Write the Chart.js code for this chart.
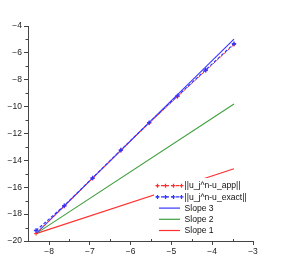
<!DOCTYPE html>
<html><head><meta charset="utf-8">
<script src="https://cdn.jsdelivr.net/npm/chart.js@4"></script>
<style>html,body{margin:0;padding:0;background:#fff}#wrap{width:282px;height:268px}</style>
</head><body><div id="wrap"><canvas id="c" width="282" height="268"></canvas></div>
<script>
const xValues = [-8.318, -7.625, -6.931, -6.238, -5.545, -4.852, -4.159, -3.466];
const appErr = [-19.45, -17.42, -15.34, -13.27, -11.23, -9.26, -7.32, -5.38];
const exactErr = [-19.22, -17.37, -15.31, -13.23, -11.19, -9.21, -7.27, -5.32];
const slopeX = [-8.318, -3.466];
const slope3 = [-19.45, -4.97];
const slope2 = [-19.45, -9.80];
const slope1 = [-19.45, -14.62];
const seriesLabels = ['||u_j^n-u_app||', '||u_j^n-u_exact||', 'Slope 3', 'Slope 2', 'Slope 1'];
const xTicks = [-8, -7, -6, -5, -4, -3];
const yTicks = [-20, -18, -16, -14, -12, -10, -8, -6, -4];
const xMinor = [-7.5, -6.5, -5.5, -4.5, -3.5];
const yMinor = [-19, -17, -15, -13, -11, -9, -7, -5];

const RED = '#ff3030', BLUE = '#3535ff', GREEN = '#3f9f3f';
const pts = (xs, ys) => xs.map((x, i) => ({x: x, y: ys[i]}));
const FONT = {family: '"Liberation Sans", Arial, sans-serif', size: 8.5};

const legendPlugin = {
  id: 'boxLegend',
  afterDraw(chart) {
    const ctx = chart.ctx;
    ctx.save();
    ctx.fillStyle = '#fff';
    ctx.fillRect(154, 178, 94, 59);
    const ds = chart.data.datasets;
    ctx.font = '8.6px "Liberation Sans", Arial, sans-serif';
    ctx.textBaseline = 'middle';
    ds.forEach((d, i) => {
      const y = 185.7 + i * 11.2;
      ctx.strokeStyle = d.borderColor;
      ctx.lineWidth = 1.2;
      if (d.isData) {
        ctx.setLineDash([3, 2]);
        ctx.beginPath(); ctx.moveTo(156, y); ctx.lineTo(182, y); ctx.stroke();
        ctx.setLineDash([]);
        [157.5, 165.5, 173.5, 181.5].forEach(mx => {
          ctx.beginPath();
          ctx.moveTo(mx - 2, y); ctx.lineTo(mx + 2, y);
          ctx.moveTo(mx, y - 2); ctx.lineTo(mx, y + 2);
          ctx.stroke();
        });
      } else {
        ctx.beginPath(); ctx.moveTo(159, y); ctx.lineTo(180, y); ctx.stroke();
      }
      ctx.fillStyle = '#111';
      ctx.fillText(d.label, 184.5, y + 0.3);
    });
    ctx.restore();
  }
};

const minorPlugin = {
  id: 'minorTicks',
  afterDraw(chart) {
    const ctx = chart.ctx, xs = chart.scales.x, ys = chart.scales.y, a = chart.chartArea;
    ctx.save();
    ctx.strokeStyle = '#444';
    ctx.lineWidth = 1;
    ctx.beginPath();
    yMinor.forEach(v => { const p = Math.round(ys.getPixelForValue(v)) + 0.5; ctx.moveTo(a.left - 2.5, p); ctx.lineTo(a.left, p); });
    xMinor.forEach(v => { const p = Math.round(xs.getPixelForValue(v)) + 0.5; ctx.moveTo(p, a.bottom); ctx.lineTo(p, a.bottom - 2); });
    ctx.stroke();
    ctx.restore();
  }
};

new Chart(document.getElementById('c'), {
  type: 'scatter',
  data: {
    datasets: [
      {label: seriesLabels[0], isData: true, data: pts(xValues, appErr), showLine: true, borderColor: RED, backgroundColor: RED,
       borderWidth: 1, borderDash: [3, 2], pointStyle: 'cross', pointRadius: 2, pointBorderWidth: 1, order: 2},
      {label: seriesLabels[1], isData: true, data: pts(xValues, exactErr), showLine: true, borderColor: BLUE, backgroundColor: BLUE,
       borderWidth: 1.2, borderDash: [3, 2], pointStyle: 'cross', pointRadius: 2.2, pointBorderWidth: 1.4, order: 1},
      {label: seriesLabels[2], data: pts(slopeX, slope3), showLine: true, borderColor: BLUE, borderWidth: 1.1, pointRadius: 0, order: 3},
      {label: seriesLabels[3], data: pts(slopeX, slope2), showLine: true, borderColor: GREEN, borderWidth: 1.1, pointRadius: 0, order: 4},
      {label: seriesLabels[4], data: pts(slopeX, slope1), showLine: true, borderColor: RED, borderWidth: 1.1, pointRadius: 0, order: 5}
    ]
  },
  options: {
    responsive: false,
    devicePixelRatio: 1,
    animation: false,
    layout: {padding: {top: 26, right: 29, left: 0, bottom: 0}},
    plugins: {legend: {display: false}, tooltip: {enabled: false}},
    scales: {
      x: {
        type: 'linear', min: -8.515, max: -3,
        afterBuildTicks: s => { s.ticks = xTicks.map(v => ({value: v})); },
        afterFit: s => { s.height = 27; },
        grid: {drawOnChartArea: false, drawTicks: true, tickLength: 4, color: '#444'},
        border: {display: true, color: '#444', width: 1},
        ticks: {font: FONT, color: '#222', padding: 2, maxRotation: 0, callback: v => String(v).replace('-', '\u2212')}
      },
      y: {
        type: 'linear', min: -20, max: -4,
        afterBuildTicks: s => { s.ticks = yTicks.map(v => ({value: v})); },
        afterFit: s => { s.width = 28; },
        grid: {drawOnChartArea: false, drawTicks: true, tickLength: 4, color: '#444'},
        border: {display: true, color: '#444', width: 1},
        ticks: {font: FONT, color: '#222', padding: 2, callback: v => String(v).replace('-', '\u2212')}
      }
    }
  },
  plugins: [legendPlugin, minorPlugin]
});
</script>
</body></html>
